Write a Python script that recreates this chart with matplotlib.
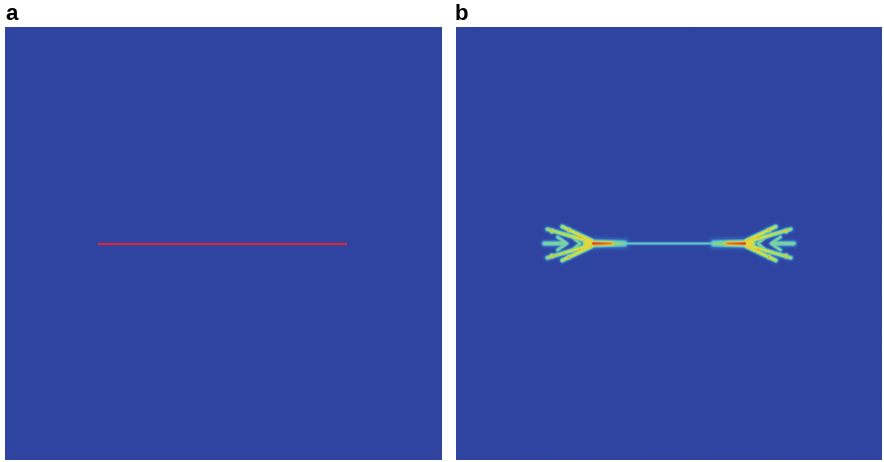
import numpy as np
import matplotlib
matplotlib.use("Agg")
import matplotlib.pyplot as plt
from matplotlib.colors import LinearSegmentedColormap

# ------------------------------- data (domain units 0..100, panel b field features)
# panel a: initial crack
crack_a_x = [21.3, 78.3]
crack_a_y = [50.0, 50.0]

# panel b: centre crack kept from the start
crack_b = (34.3, 50.0, 65.7, 50.0, 0.45, 0.45, 0.42)

# left half features: x0, y0, x1, y1, value at start, value at end, half width
left_feats = [
    (32.2, 50.0, 36.5, 50.0, 1.00, 0.88, 0.75),   # hot spot at tip
    (30.5, 50.0, 39.5, 50.0, 0.74, 0.50, 1.05),   # yellow taper
    (21.4, 53.3, 31.5, 50.4, 0.60, 0.74, 0.62),   # outer branch up
    (24.9, 53.9, 31.9, 50.6, 0.66, 0.76, 0.62),   # inner branch up
    (21.4, 46.7, 31.5, 49.6, 0.60, 0.74, 0.62),   # outer branch down
    (24.9, 46.1, 31.9, 49.4, 0.66, 0.76, 0.62),   # inner branch down
    (20.7, 50.0, 25.4, 50.0, 0.52, 0.52, 0.75),   # arrow shaft
    (23.8, 51.5, 26.0, 50.0, 0.52, 0.52, 0.55),   # arrow head
    (23.8, 48.5, 26.0, 50.0, 0.52, 0.52, 0.55),
    (26.8, 51.7, 29.1, 50.0, 0.45, 0.56, 0.45),   # inner chevron
    (26.8, 48.3, 29.1, 50.0, 0.45, 0.56, 0.45),
]
# small hot specks on the branches
left_spots = [(22.5, 52.9, 0.84), (26.5, 53.1, 0.84), (22.5, 47.1, 0.84),
              (26.5, 46.9, 0.84), (29.0, 51.4, 0.86), (29.0, 48.6, 0.86)]

bg_color = '#2E44A0'
line_color = '#D8283C'


def seg_field(X, Y, x0, y0, x1, y1, v0, v1, w):
    dx, dy = x1 - x0, y1 - y0
    L2 = dx * dx + dy * dy
    t = np.clip(((X - x0) * dx + (Y - y0) * dy) / L2, 0, 1)
    d = np.hypot(X - (x0 + t * dx), Y - (y0 + t * dy))
    return (v0 + (v1 - v0) * t) * np.exp(-(d / w) ** 2)


n = 700
xs = np.linspace(0, 100, n)
X, Y = np.meshgrid(xs, xs)
field = np.zeros_like(X)
feats = [crack_b]
for f in left_feats:
    x0, y0, x1, y1, v0, v1, w = f
    feats.append(f)
    feats.append((100 - x0, y0, 100 - x1, y1, v0, v1, w))
for f in feats:
    field = np.maximum(field, seg_field(X, Y, *f))
for sx, sy, sv in left_spots:
    for cx in (sx, 100 - sx):
        field = np.maximum(field, sv * np.exp(-((X - cx) ** 2 + (Y - sy) ** 2) / 0.45))

cmap = LinearSegmentedColormap.from_list('field', [
    (0.0, bg_color), (0.22, '#3560B8'), (0.40, '#5CC8D6'), (0.56, '#94D86A'),
    (0.70, '#E6E23E'), (0.84, '#F08A2E'), (1.0, '#D8322A')])

fig = plt.figure(figsize=(8.84, 4.62), dpi=100)
ax_a = fig.add_axes([5 / 884, 2 / 462, 437 / 884, 433 / 462])
ax_b = fig.add_axes([456 / 884, 2 / 462, 426 / 884, 433 / 462])

ax_a.set_facecolor(bg_color)
ax_a.plot(crack_a_x, crack_a_y, color=line_color, lw=1.6, solid_capstyle='butt')
ax_a.set_xlim(0, 100)
ax_a.set_ylim(0, 100)

ax_b.imshow(field, cmap=cmap, vmin=0, vmax=1, origin='lower',
            extent=[0, 100, 0, 100], aspect='auto', interpolation='bilinear')

for ax in (ax_a, ax_b):
    ax.set_xticks([])
    ax.set_yticks([])
    for s in ax.spines.values():
        s.set_visible(False)

fig.text(5 / 884, 1 - 4 / 462, 'a', fontsize=16, fontweight='bold',
         family='Liberation Sans', va='top', ha='left')
fig.text(455 / 884, 1 - 4 / 462, 'b', fontsize=16, fontweight='bold',
         family='Liberation Sans', va='top', ha='left')

fig.savefig('out.png', dpi=100, facecolor='white')
